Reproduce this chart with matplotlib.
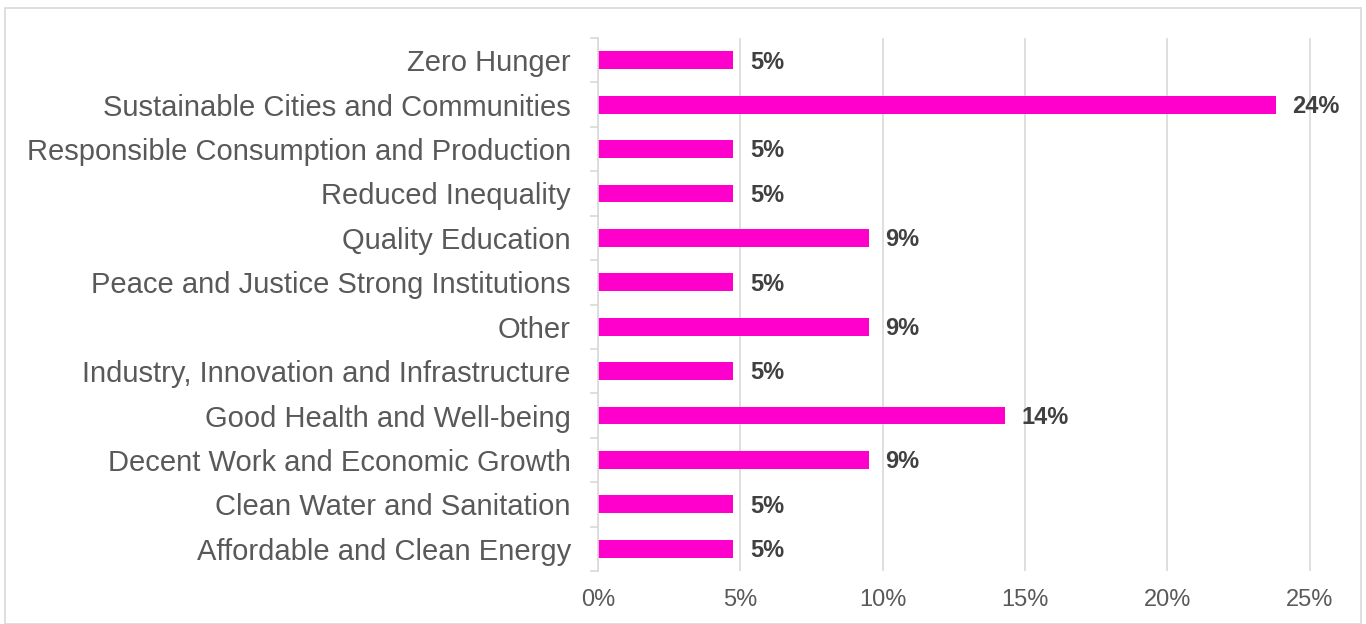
import matplotlib
matplotlib.use("Agg")
import matplotlib.pyplot as plt
from matplotlib.patches import Rectangle
from matplotlib.ticker import FixedLocator, PercentFormatter

plt.rcParams['font.family'] = ['Liberation Sans', 'DejaVu Sans']

categories = [
    "Affordable and Clean Energy",
    "Clean Water and Sanitation",
    "Decent Work and Economic Growth",
    "Good Health and Well-being",
    "Industry, Innovation and Infrastructure",
    "Other",
    "Peace and Justice Strong Institutions",
    "Quality Education",
    "Reduced Inequality",
    "Responsible Consumption and Production",
    "Sustainable Cities and Communities",
    "Zero Hunger",
]
values = [4.76, 4.76, 9.52, 14.29, 4.76, 9.52, 4.76, 9.52, 4.76, 4.76, 23.81, 4.76]
value_labels = ["5%", "5%", "9%", "14%", "5%", "9%", "5%", "9%", "5%", "5%", "24%", "5%"]
xticks = [0, 5, 10, 15, 20, 25]

W, H = 1366, 624
fig = plt.figure(figsize=(W / 100, H / 100), dpi=100)
fig.patches.append(Rectangle((5 / W, 0), (1356) / W, (H - 8) / H, transform=fig.transFigure,
                             fill=False, edgecolor='#D9D9D9', linewidth=1.2))

ax = fig.add_axes([598 / W, 1 - 571 / H, (1338 - 598) / W, (571 - 38) / H])
y = list(range(len(categories)))
ax.barh(y, values, height=0.4, color='#FF00CC', zorder=3)

for yi, v, lab in zip(y, values, value_labels):
    ax.annotate(lab, (v, yi), xytext=(12, -1.3), textcoords='offset points',
                va='center', ha='left', fontsize=17, fontweight='bold', color='#404040')

ax.set_ylim(-0.5, len(categories) - 0.5)
ax.set_xlim(0, 26)
ax.set_yticks(y)
ax.set_yticklabels(categories, fontsize=21, color='#595959')
ax.yaxis.set_minor_locator(FixedLocator([i - 0.5 for i in range(len(categories) + 1)]))
ax.tick_params(axis='y', which='major', length=0, pad=19.5)
ax.tick_params(axis='y', which='minor', length=6, color='#D9D9D9', width=1.2)

ax.set_xticks(xticks)
ax.xaxis.set_major_formatter(PercentFormatter(decimals=0))
ax.tick_params(axis='x', length=0, labelsize=17, labelcolor='#595959', pad=13)
ax.grid(axis='x', color='#D9D9D9', linewidth=1.2, zorder=0)

for s in ['top', 'right', 'bottom']:
    ax.spines[s].set_visible(False)
ax.spines['left'].set_color('#D9D9D9')
ax.spines['left'].set_linewidth(1.2)
ax.spines['left'].set_zorder(4)

fig.savefig('out.png', dpi=100)
